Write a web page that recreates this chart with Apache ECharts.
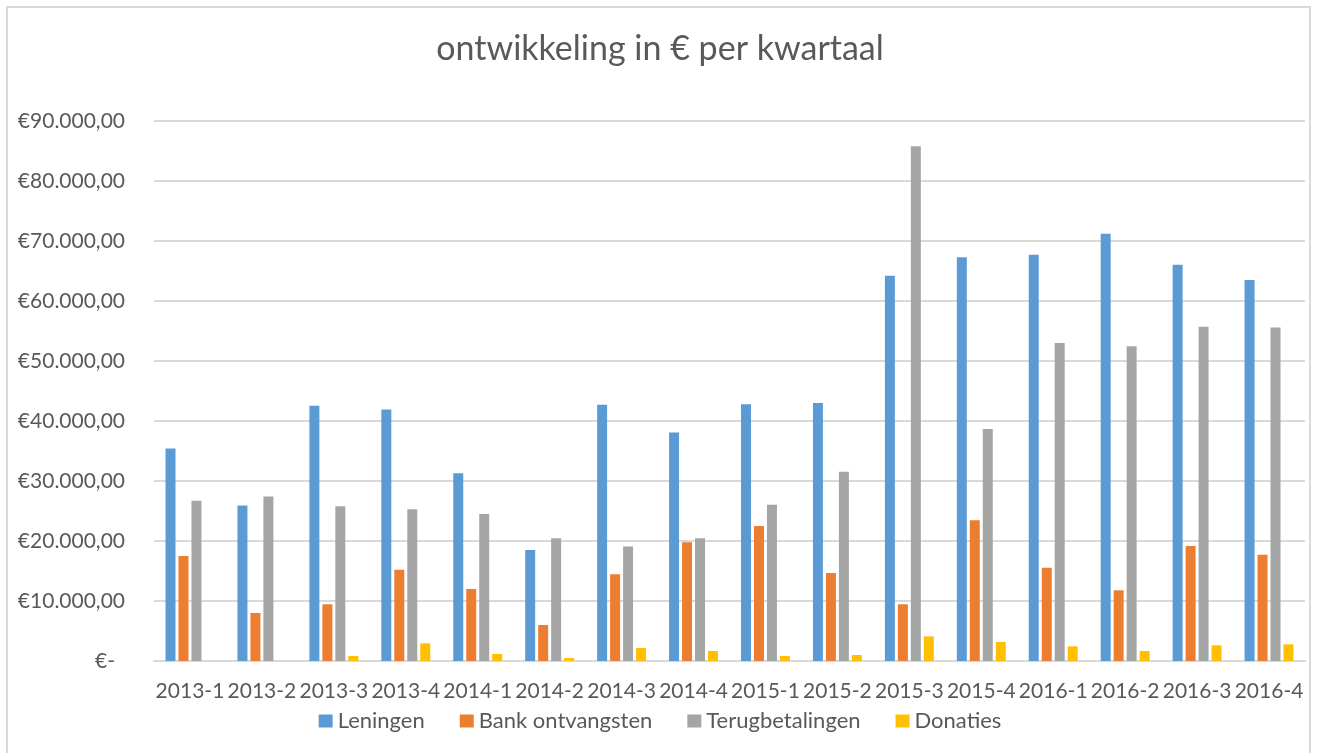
<!DOCTYPE html>
<html>
<head>
<meta charset="utf-8">
<script src="https://cdn.jsdelivr.net/npm/echarts@6/dist/echarts.min.js"></script>
<style>
  html, body { margin: 0; padding: 0; background: #fff; }
  #frame { position: absolute; left: 6px; top: 6px; width: 1305px; height: 760px; border: 2px solid #d9d9d9; box-sizing: border-box; }
  #chart { position: absolute; left: 0; top: 0; width: 1320px; height: 753px; }
</style>
</head>
<body>
<div id="frame"></div>
<div id="chart"></div>
<script>
const categories = ['2013-1','2013-2','2013-3','2013-4','2014-1','2014-2','2014-3','2014-4','2015-1','2015-2','2015-3','2015-4','2016-1','2016-2','2016-3','2016-4'];
const leningen = [35400, 25900, 42550, 41900, 31300, 18500, 42700, 38100, 42800, 43000, 64200, 67300, 67700, 71200, 66050, 63500];
const bankOntvangsten = [17500, 8000, 9450, 15200, 12000, 6000, 14450, 19800, 22500, 14670, 9450, 23450, 15550, 11780, 19170, 17720];
const terugbetalingen = [26700, 27400, 25800, 25300, 24500, 20450, 19100, 20450, 26050, 31550, 85800, 38670, 53000, 52450, 55720, 55600];
const donaties = [0, 0, 830, 2950, 1170, 500, 2170, 1670, 830, 1000, 4100, 3170, 2450, 1670, 2620, 2780];
const seriesNames = ['Leningen', 'Bank ontvangsten', 'Terugbetalingen', 'Donaties'];
const colors = ['#5b9bd5', '#ed7d31', '#a5a5a5', '#ffc000'];
const title = 'ontwikkeling in € per kwartaal';

const FONT = 'Lato';
const TXT = '#595959';

function fmtEuro(v) {
  if (v === 0) return '{z|€-}';
  const s = Math.round(v).toString().replace(/\B(?=(\d{3})+(?!\d))/g, '.');
  return '€' + s + ',00';
}

const chart = echarts.init(document.getElementById('chart'), null, { renderer: 'canvas' });
const data = [leningen, bankOntvangsten, terugbetalingen, donaties];
chart.setOption({
  animation: false,
  color: colors,
  title: {
    text: title,
    left: 'center',
    top: 27,
    textStyle: { fontFamily: FONT, fontSize: 34, fontWeight: 'normal', color: TXT }
  },
  legend: {
    data: seriesNames,
    left: 'center',
    top: 705,
    itemWidth: 14,
    itemHeight: 13,
    itemGap: 35,
    icon: 'rect',
    textStyle: { fontFamily: FONT, fontSize: 22, color: TXT }
  },
  grid: { left: 154, right: 15, top: 121, bottom: 92, containLabel: false },
  xAxis: {
    type: 'category',
    data: categories,
    axisLine: { lineStyle: { color: '#d9d9d9', width: 2 } },
    axisTick: { show: false },
    axisLabel: { fontFamily: FONT, fontSize: 21, color: TXT, margin: 20, interval: 0 }
  },
  yAxis: {
    type: 'value',
    min: 0,
    max: 90000,
    interval: 10000,
    axisLine: { show: false },
    axisTick: { show: false },
    splitLine: { lineStyle: { color: '#d9d9d9', width: 2 } },
    axisLabel: {
      fontFamily: FONT, fontSize: 21, color: TXT, margin: 29,
      formatter: fmtEuro,
      rich: { z: { fontFamily: FONT, fontSize: 21, color: TXT, padding: [0, 10, 0, 0] } }
    }
  },
  series: seriesNames.map((n, i) => ({
    name: n,
    type: 'bar',
    data: data[i],
    barGap: '30%',
    barCategoryGap: '32%',
    itemStyle: { color: colors[i] }
  }))
});
</script>
</body>
</html>
